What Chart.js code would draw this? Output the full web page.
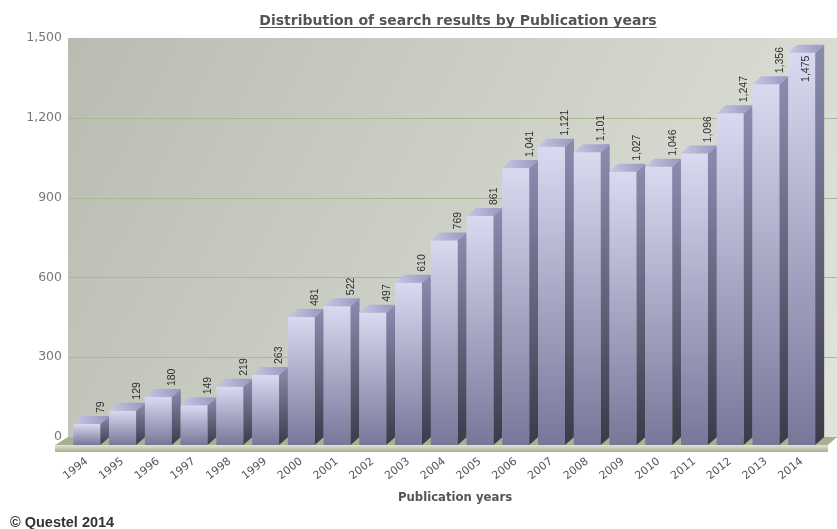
<!DOCTYPE html>
<html>
<head>
<meta charset="utf-8">
<script src="https://cdn.jsdelivr.net/npm/chart.js@4.4.1/dist/chart.umd.min.js"></script>
<style>
    html, body { margin: 0; padding: 0; background: #fff; }
    #wrap { width: 837px; height: 529px; position: relative; }
</style>
</head>
<body>
<div id="wrap"><canvas id="chart"></canvas></div>
<script>
// Data
const years = ['1994', '1995', '1996', '1997', '1998', '1999', '2000', '2001', '2002', '2003', '2004',
    '2005', '2006', '2007', '2008', '2009', '2010', '2011', '2012', '2013', '2014'];
const counts = [79, 129, 180, 149, 219, 263, 481, 522, 497, 610, 769,
    861, 1041, 1121, 1101, 1027, 1046, 1096, 1247, 1356, 1475];
const yTicks = [0, 300, 600, 900, 1200, 1500];

const chartTitle = 'Distribution of search results by Publication years';
const xTitle = 'Publication years';
const credit = '\u00A9 Questel 2014';

// 3D offsets
const DX = 9, DY = 8;
const fmt = v => v.toLocaleString('en-US');

const bar3d = {
    id: 'bar3d',
    beforeDatasetsDraw(chart) {
        const { ctx, chartArea: a, scales: { y } } = chart;
        const wallL = a.left - 10, wallR = chart.width;
        ctx.save();
        // back wall
        const g = ctx.createLinearGradient(wallL, a.top, wallR, a.bottom);
        g.addColorStop(0, '#b9bdb1');
        g.addColorStop(1, '#e2e4dc');
        ctx.fillStyle = g;
        ctx.fillRect(wallL, a.top, wallR - wallL, a.bottom - a.top);
        // grid lines
        ctx.strokeStyle = '#adb795';
        ctx.lineWidth = 1;
        y.ticks.forEach(t => {
            if (t.value === yTicks[yTicks.length - 1]) return;
            const py = Math.round(y.getPixelForValue(t.value)) + 0.5;
            ctx.beginPath();
            ctx.moveTo(wallL, py);
            ctx.lineTo(wallR, py);
            ctx.stroke();
        });
        // floor
        const fy = y.getPixelForValue(0);
        ctx.fillStyle = '#a9b092';
        ctx.beginPath();
        ctx.moveTo(wallL, fy);
        ctx.lineTo(wallR, fy);
        ctx.lineTo(wallR - DX, fy + DY);
        ctx.lineTo(wallL - DX - 4, fy + DY);
        ctx.closePath();
        ctx.fill();
        const sg = ctx.createLinearGradient(0, fy + DY, 0, fy + DY + 7);
        sg.addColorStop(0, '#e2e5d6');
        sg.addColorStop(1, '#a7ae90');
        ctx.fillStyle = sg;
        ctx.fillRect(wallL - DX - 4, fy + DY, wallR - wallL + 4, 7);
        ctx.restore();
    },
    afterDatasetsDraw(chart) {
        const { ctx, chartArea: a } = chart;
        const meta = chart.getDatasetMeta(0);
        ctx.save();
        meta.data.forEach((b, i) => {
            const L = b.x - b.width / 2, R = b.x + b.width / 2;
            const Y = b.y, B = b.base;
            const fl = L - DX, fr = R - DX, ft = Y + DY, fb = B + DY;
            // front face
            const fg = ctx.createLinearGradient(0, ft, 0, fb);
            fg.addColorStop(0, '#d9d9f0');
            fg.addColorStop(1, '#77779a');
            ctx.fillStyle = fg;
            ctx.fillRect(fl, ft, fr - fl, fb - ft);
            // side face
            const sg = ctx.createLinearGradient(0, Y, 0, fb);
            sg.addColorStop(0, '#8c8cb0');
            sg.addColorStop(1, '#3a3a4a');
            ctx.fillStyle = sg;
            ctx.beginPath();
            ctx.moveTo(fr, ft);
            ctx.lineTo(R, Y);
            ctx.lineTo(R, B);
            ctx.lineTo(fr, fb);
            ctx.closePath();
            ctx.fill();
            // top cap
            const tg = ctx.createLinearGradient(fl, ft, R, Y);
            tg.addColorStop(0, '#c8c8e4');
            tg.addColorStop(1, '#9696c0');
            ctx.fillStyle = tg;
            ctx.beginPath();
            ctx.moveTo(fl, ft);
            ctx.lineTo(L, Y);
            ctx.lineTo(R, Y);
            ctx.lineTo(fr, ft);
            ctx.closePath();
            ctx.fill();

            // value label
            const txt = fmt(counts[i]);
            ctx.font = '10.5px "Liberation Sans", Arial, sans-serif';
            ctx.fillStyle = '#2e2e2e';
            const tw = ctx.measureText(txt).width;
            ctx.save();
            if (Y - 3 - tw < a.top) {
                ctx.translate(b.x - 5, ft + 3);
                ctx.rotate(-Math.PI / 2);
                ctx.textAlign = 'right';
            } else {
                ctx.translate(b.x + 5, Y - 3);
                ctx.rotate(-Math.PI / 2);
                ctx.textAlign = 'left';
            }
            ctx.textBaseline = 'middle';
            ctx.fillText(txt, 0, 0);
            ctx.restore();
        });

        // titles
        ctx.fillStyle = '#555';
        ctx.font = 'bold 14px "DejaVu Sans", Verdana, sans-serif';
        ctx.textAlign = 'center';
        ctx.textBaseline = 'alphabetic';
        const tx = 458, ty = 25;
        ctx.fillText(chartTitle, tx, ty);
        const w = ctx.measureText(chartTitle).width;
        ctx.strokeStyle = '#555';
        ctx.lineWidth = 1;
        ctx.beginPath();
        ctx.moveTo(tx - w / 2, ty + 2.5);
        ctx.lineTo(tx + w / 2, ty + 2.5);
        ctx.stroke();

        ctx.font = 'bold 11.7px "DejaVu Sans", Verdana, sans-serif';
        ctx.fillText(xTitle, 455, 501);

        ctx.fillStyle = '#333';
        ctx.textAlign = 'left';
        ctx.font = 'bold 14.5px "Liberation Sans", Arial, sans-serif';
        ctx.fillText(credit, 10, 527);
        ctx.restore();
    }
};

new Chart(document.getElementById('chart'), {
    type: 'bar',
    data: {
        labels: years,
        datasets: [{
            data: counts,
            backgroundColor: 'rgba(0,0,0,0)',
            borderWidth: 0,
            barPercentage: 0.755,
            categoryPercentage: 1
        }]
    },
    options: {
        responsive: true,
        maintainAspectRatio: false,
        animation: false,
        events: [],
        layout: { padding: { left: 0, right: 8, top: 38, bottom: 0 } },
        plugins: {
            legend: { display: false },
            tooltip: { enabled: false }
        },
        scales: {
            x: {
                grid: { display: false, drawTicks: false },
                border: { display: false },
                afterFit: s => { s.height = 92; },
                ticks: {
                    color: '#555',
                    font: { family: '"DejaVu Sans", Verdana, sans-serif', size: 11 },
                    minRotation: 38,
                    maxRotation: 38,
                    padding: 18,
                    labelOffset: -9
                }
            },
            y: {
                min: 0,
                max: 1500,
                grid: { display: false },
                border: { display: false },
                afterFit: s => { s.width = 78; },
                afterBuildTicks: s => { s.ticks = yTicks.map(v => ({ value: v })); },
                ticks: {
                    color: '#777',
                    font: { family: '"DejaVu Sans", Verdana, sans-serif', size: 12.5 },
                    padding: 8,
                    callback: v => fmt(v)
                }
            }
        }
    },
    plugins: [bar3d]
});
</script>
</body>
</html>
